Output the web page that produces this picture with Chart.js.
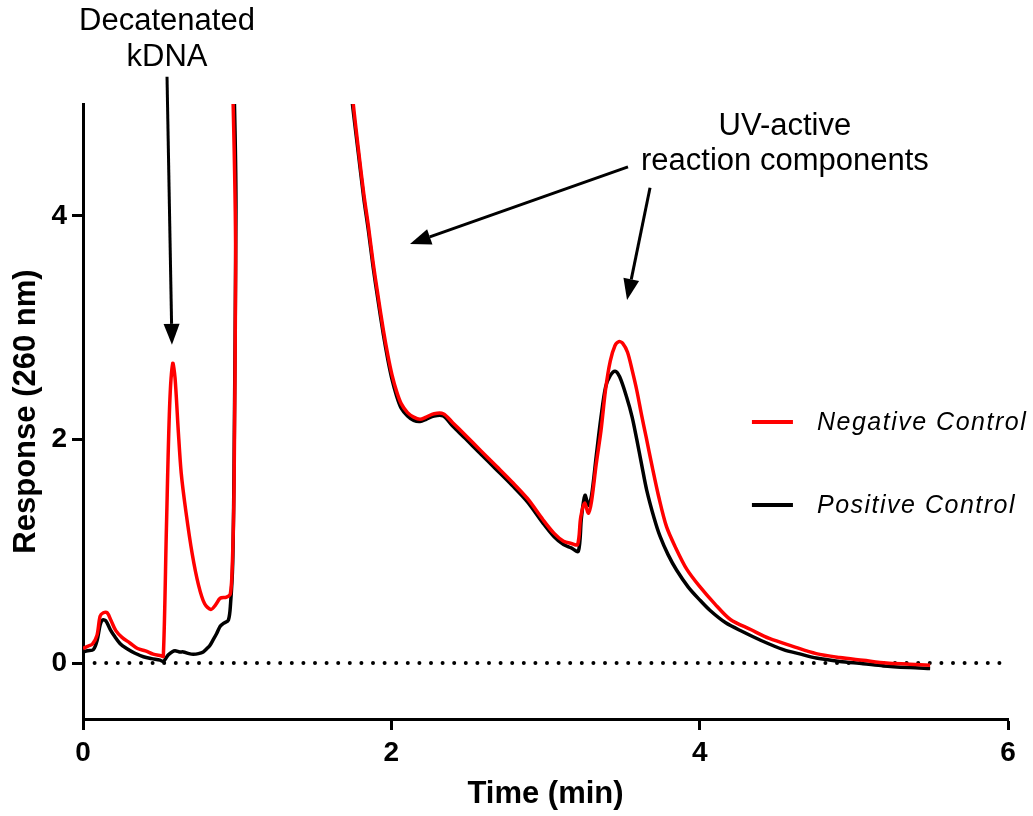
<!DOCTYPE html>
<html>
<head>
<meta charset="utf-8">
<script src="https://cdn.jsdelivr.net/npm/chart.js@4"></script>
<style>
  html, body { margin: 0; padding: 0; background: #fff; }
  #wrap { width: 1033px; height: 816px; position: relative; }
  canvas { display: block; }
</style>
</head>
<body>
<div id="wrap"><canvas id="c" width="1033" height="816"></canvas></div>
<script>
// ---- Data ----
const xTicks = [0, 2, 4, 6];
const yTicks = [0, 2, 4];

const seriesNames = ['Negative Control', 'Positive Control'];

const negTime = [0, 0.030, 0.061, 0.091, 0.111, 0.132, 0.157, 0.182, 0.213, 0.253, 0.304, 0.354, 0.405, 0.455, 0.506, 0.521,
  0.541, 0.562, 0.582, 0.597, 0.617, 0.637, 0.668, 0.708, 0.749, 0.789, 0.830, 0.860, 0.890, 0.931, 0.956, 0.969, 0.980, 0.990,
  1.01, 1.5, 1.72, 1.754, 1.786, 1.821, 1.852, 1.882, 1.912, 1.948, 1.978, 2.004, 2.034, 2.064, 2.105, 2.145, 2.186, 2.226, 2.277,
  2.337, 2.398, 2.479, 2.580, 2.682, 2.783, 2.884, 2.985, 3.056, 3.117, 3.167, 3.208, 3.228, 3.253, 3.279, 3.299, 3.329, 3.360, 3.390,
  3.420, 3.451, 3.476, 3.501, 3.532, 3.562, 3.592, 3.623, 3.653, 3.693, 3.734, 3.785, 3.845, 3.916, 3.997, 4.098, 4.199, 4.331, 4.452,
  4.604, 4.756, 4.908, 5.060, 5.211, 5.363, 5.495];
const negResp = [0.13, 0.15, 0.17, 0.25, 0.42, 0.45, 0.45, 0.38, 0.29, 0.23, 0.18, 0.13, 0.11, 0.08, 0.065, 0.06,
  1.2, 2.3, 2.68, 2.55, 2.1, 1.7, 1.35, 0.98, 0.7, 0.53, 0.48, 0.52, 0.58, 0.59, 0.62, 0.9, 1.6, 3.5,
  9, 9, 5.5, 4.99, 4.6, 4.2, 3.9, 3.58, 3.3, 2.98, 2.75, 2.58, 2.43, 2.32, 2.24, 2.2, 2.18, 2.2, 2.23,
  2.23, 2.15, 2.04, 1.9, 1.76, 1.62, 1.47, 1.28, 1.16, 1.09, 1.07, 1.06, 1.3, 1.43, 1.34, 1.45, 1.78, 2.08, 2.45,
  2.7, 2.84, 2.875, 2.86, 2.78, 2.62, 2.44, 2.22, 2.02, 1.75, 1.49, 1.22, 1.03, 0.84, 0.69, 0.53, 0.39, 0.30, 0.22,
  0.15, 0.085, 0.05, 0.025, 0.0, -0.01, -0.02];

const posTime = [0, 0.030, 0.067, 0.091, 0.111, 0.126, 0.147, 0.177, 0.207, 0.243, 0.283, 0.334, 0.392, 0.445, 0.500, 0.521,
  0.536, 0.554, 0.577, 0.597, 0.627, 0.651, 0.688, 0.715, 0.749, 0.780, 0.804, 0.824, 0.845, 0.867, 0.890, 0.911, 0.943, 0.957,
  0.971, 0.980, 0.992, 1.01, 1.5, 1.71, 1.751, 1.786, 1.821, 1.852, 1.882, 1.912, 1.948, 1.978, 2.004, 2.034, 2.064, 2.105, 2.145,
  2.186, 2.226, 2.277, 2.337, 2.398, 2.479, 2.580, 2.682, 2.783, 2.884, 2.985, 3.056, 3.117, 3.167, 3.213, 3.233, 3.256, 3.279, 3.299,
  3.329, 3.360, 3.390, 3.420, 3.451, 3.481, 3.526, 3.562, 3.592, 3.623, 3.656, 3.704, 3.744, 3.795, 3.851, 3.926, 3.997, 4.068, 4.169,
  4.280, 4.402, 4.543, 4.655, 4.756, 4.908, 5.060, 5.191, 5.363, 5.495];
const posResp = [0.10, 0.11, 0.12, 0.2, 0.34, 0.385, 0.38, 0.3, 0.235, 0.17, 0.13, 0.09, 0.057, 0.04, 0.027, 0.012,
  0.04, 0.075, 0.1, 0.11, 0.1, 0.10, 0.085, 0.08, 0.085, 0.10, 0.13, 0.16, 0.21, 0.265, 0.33, 0.355, 0.385, 0.53,
  0.89, 1.79, 4.0, 9, 9, 5.5, 4.96, 4.56, 4.16, 3.86, 3.54, 3.26, 2.94, 2.71, 2.54, 2.39, 2.28, 2.21, 2.17,
  2.16, 2.18, 2.21, 2.21, 2.12, 2.01, 1.87, 1.73, 1.59, 1.44, 1.25, 1.13, 1.06, 1.03, 1.0, 1.3, 1.50, 1.41, 1.5,
  1.85, 2.2, 2.47, 2.57, 2.61, 2.56, 2.38, 2.2, 2.0, 1.78, 1.55, 1.3, 1.13, 0.97, 0.83, 0.68, 0.57, 0.47, 0.36,
  0.28, 0.2, 0.12, 0.08, 0.045, 0.015, -0.005, -0.025, -0.04, -0.048];

const zeroLineX = [0, 6];
const zeroLineY = [0, 0];

// Annotation anchors in data units
const annoTexts = [
  { lines: ['Decatenated', 'kDNA'], x: 0.545, y: [5.735, 5.42] },
  { lines: ['UV-active', 'reaction components'], x: 4.553, y: [4.796, 4.483] }
];
const arrows = [
  { from: [0.545, 5.244], to: [0.577, 2.846] },
  { from: [3.535, 4.438], to: [2.121, 3.749] },
  { from: [3.678, 4.251], to: [3.529, 3.248] }
];
const legendPos = { lineX: [4.339, 4.605], textX: 4.761, y: [2.157, 1.414] };

// ---- Chart ----
const toPts = (xs, ys) => xs.map((x, i) => ({ x: x, y: ys[i] }));
const colors = ['#ff0000', '#000000'];
const FONT = '"Liberation Sans", Arial, sans-serif';

const overlayPlugin = {
  id: 'overlay',
  afterDatasetsDraw(chart) {
    const ctx = chart.ctx;
    const xs = chart.scales.x, ys = chart.scales.y;
    const px = v => xs.getPixelForValue(v), py = v => ys.getPixelForValue(v);
    ctx.save();
    arrows.forEach(a => {
      const x1 = px(a.from[0]), y1 = py(a.from[1]);
      const x2 = px(a.to[0]), y2 = py(a.to[1]);
      const ang = Math.atan2(y2 - y1, x2 - x1);
      const hl = 21, hw = 8;
      const bx = x2 - hl * Math.cos(ang), by = y2 - hl * Math.sin(ang);
      ctx.strokeStyle = '#000'; ctx.lineWidth = 3; ctx.lineCap = 'butt';
      ctx.beginPath(); ctx.moveTo(x1, y1); ctx.lineTo(bx, by); ctx.stroke();
      ctx.fillStyle = '#000';
      ctx.beginPath();
      ctx.moveTo(x2, y2);
      ctx.lineTo(bx + hw * Math.sin(ang), by - hw * Math.cos(ang));
      ctx.lineTo(bx - hw * Math.sin(ang), by + hw * Math.cos(ang));
      ctx.closePath(); ctx.fill();
    });
    ctx.fillStyle = '#000';
    ctx.font = '31px ' + FONT;
    ctx.textAlign = 'center'; ctx.textBaseline = 'middle';
    annoTexts.forEach(t => t.lines.forEach((s, i) => ctx.fillText(s, px(t.x), py(t.y[i]))));
    seriesNames.forEach((name, i) => {
      const y = py(legendPos.y[i]);
      ctx.strokeStyle = colors[i]; ctx.lineWidth = 4;
      ctx.beginPath(); ctx.moveTo(px(legendPos.lineX[0]), y); ctx.lineTo(px(legendPos.lineX[1]), y); ctx.stroke();
      ctx.fillStyle = '#000';
      ctx.font = 'italic 25px ' + FONT;
      if ('letterSpacing' in ctx) ctx.letterSpacing = '1.5px';
      ctx.textAlign = 'left'; ctx.textBaseline = 'middle';
      ctx.fillText(name, px(legendPos.textX), y + 1);
      if ('letterSpacing' in ctx) ctx.letterSpacing = '0px';
    });
    ctx.restore();
  }
};

new Chart(document.getElementById('c'), {
  type: 'line',
  data: {
    datasets: [
      { label: seriesNames[0], data: toPts(negTime, negResp), borderColor: colors[0], borderWidth: 3.5,
        pointRadius: 0, tension: 0.3, fill: false, borderJoinStyle: 'round' },
      { label: seriesNames[1], data: toPts(posTime, posResp), borderColor: colors[1], borderWidth: 3.5,
        pointRadius: 0, tension: 0.3, fill: false, borderJoinStyle: 'round' },
      { label: 'zero', data: toPts(zeroLineX, zeroLineY), borderColor: '#000', borderWidth: 4,
        borderDash: [0, 11.6], borderCapStyle: 'round', pointRadius: 0, fill: false }
    ]
  },
  options: {
    responsive: false,
    animation: false,
    devicePixelRatio: 1,
    layout: { padding: { top: 104, right: 25, left: 0, bottom: 0 } },
    plugins: { legend: { display: false }, tooltip: { enabled: false } },
    scales: {
      x: {
        type: 'linear', min: 0, max: 6,
        afterBuildTicks: s => { s.ticks = xTicks.map(v => ({ value: v })); },
        afterFit: s => { s.height = 97; },
        border: { display: true, color: '#000', width: 3 },
        grid: { display: true, drawOnChartArea: false, drawTicks: true, tickLength: 11, tickWidth: 3, tickColor: '#000' },
        ticks: { color: '#000', padding: 6, font: { family: FONT, size: 28, weight: 'bold' } },
        title: { display: true, text: 'Time (min)', color: '#000', padding: { top: 0, bottom: 3 },
          font: { family: FONT, size: 31, weight: 'bold' } }
      },
      y: {
        type: 'linear', min: -0.5, max: 5,
        afterBuildTicks: s => { s.ticks = yTicks.map(v => ({ value: v })); },
        afterFit: s => { s.width = 83; },
        border: { display: true, color: '#000', width: 3 },
        grid: { display: true, drawOnChartArea: false, drawTicks: true, tickLength: 11, tickWidth: 3, tickColor: '#000' },
        ticks: { color: '#000', padding: 5, font: { family: FONT, size: 28, weight: 'bold' } },
        title: { display: true, text: 'Response (260 nm)', color: '#000', padding: { top: 8, bottom: 0 },
          font: { family: FONT, size: 31, weight: 'bold' } }
      }
    }
  },
  plugins: [overlayPlugin]
});
</script>
</body>
</html>
